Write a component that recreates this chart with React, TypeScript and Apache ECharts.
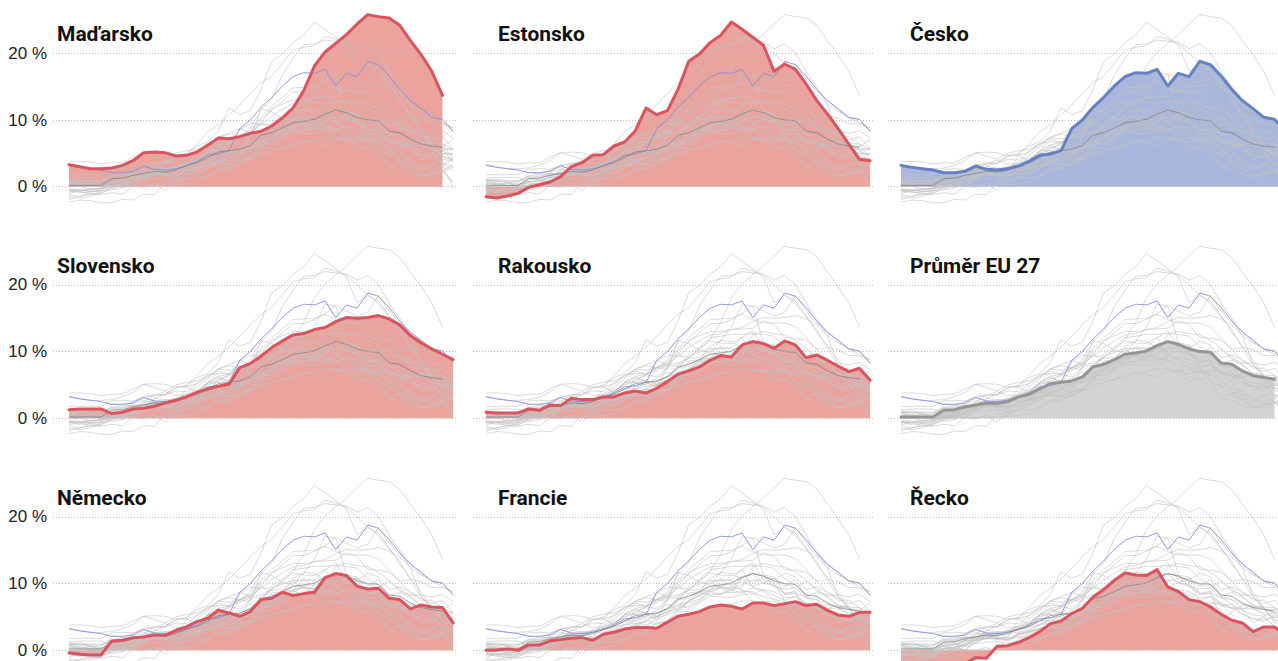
import { useEffect, useRef } from 'react';
import * as echarts from 'echarts';

// Monthly HICP inflation, Sep 2020 – Sep 2023 (index 0 = 2020-09)
const MONTHS = ['2020-09','2020-10','2020-11','2020-12','2021-01','2021-02','2021-03','2021-04','2021-05','2021-06','2021-07','2021-08','2021-09','2021-10','2021-11','2021-12','2022-01','2022-02','2022-03','2022-04','2022-05','2022-06','2022-07','2022-08','2022-09','2022-10','2022-11','2022-12','2023-01','2023-02','2023-03','2023-04','2023-05','2023-06','2023-07','2023-08','2023-09'];

const Y_TICKS = [0, 10, 20];

const HU = [3.3,3.0,2.7,2.7,2.8,3.2,3.9,5.1,5.2,5.1,4.6,4.7,5.2,6.2,7.3,7.2,7.5,8.0,8.3,9.1,10.3,11.8,14.4,18.1,20.2,21.5,22.8,24.4,25.8,25.5,25.3,24.2,21.9,19.8,17.3,13.7];
const EE = [-1.5,-1.7,-1.4,-1.0,-0.1,0.3,0.7,1.5,3.0,3.6,4.7,4.8,6.1,6.7,8.4,11.8,10.8,11.4,14.6,18.8,19.9,21.6,22.7,24.7,23.6,22.4,21.2,17.3,18.4,17.6,15.4,12.9,10.9,8.7,6.4,4.1,3.9];
const CZ = [3.2,2.9,2.7,2.5,2.1,2.1,2.3,3.1,2.6,2.5,2.7,3.1,3.8,4.7,4.9,5.4,8.7,10.0,11.9,13.4,15.1,16.5,17.1,17.0,17.6,15.1,17.0,16.5,18.8,18.3,16.6,14.6,12.9,11.7,10.4,10.1,8.3];
const SK = [1.3,1.4,1.4,1.4,0.7,0.9,1.4,1.5,1.8,2.3,2.7,3.2,3.9,4.4,4.8,5.1,7.6,8.2,9.3,10.6,11.6,12.5,12.7,13.3,13.6,14.5,15.1,15.0,15.1,15.4,14.9,14.0,12.4,11.3,10.4,9.6,8.8];
const AT = [0.9,0.8,0.8,0.8,1.4,1.2,2.0,1.9,3.0,2.8,2.8,3.2,3.2,3.8,4.1,3.8,4.5,5.5,6.6,7.1,7.7,8.7,9.4,9.2,11.0,11.5,11.2,10.5,11.6,11.0,9.1,9.5,8.7,7.8,7.0,7.5,5.7];
const EU = [0.2,0.2,0.2,0.2,1.2,1.3,1.7,2.0,2.3,2.2,2.5,3.2,3.6,4.4,5.2,5.4,5.6,6.2,7.7,8.1,8.8,9.6,9.8,10.1,10.9,11.5,11.1,10.4,10.0,9.9,8.3,8.1,7.1,6.4,6.1,5.9];
const DE = [-0.4,-0.6,-0.7,-0.7,1.4,1.5,1.9,2.0,2.3,2.2,3.0,3.5,4.3,4.8,6.0,5.6,5.1,5.8,7.6,7.8,8.7,8.2,8.5,8.7,10.9,11.5,11.2,9.6,9.2,9.3,7.8,7.6,6.2,6.8,6.5,6.4,4.1];
const FR = [0.0,0.0,0.2,0.0,0.8,0.8,1.4,1.6,1.8,1.9,1.5,2.4,2.7,3.2,3.4,3.4,3.3,4.2,5.1,5.4,5.8,6.5,6.8,6.6,6.2,7.1,7.1,6.7,7.0,7.3,6.7,6.9,6.0,5.3,5.1,5.7,5.7];
const GR = [-2.3,-2.0,-2.1,-2.4,-2.4,-1.9,-2.0,-1.1,-1.2,0.6,0.7,1.2,1.9,2.8,4.0,4.4,5.5,6.3,8.0,9.1,10.5,11.6,11.3,11.2,12.1,9.5,8.8,7.6,7.3,6.5,5.4,4.5,4.1,2.8,3.5,3.5,2.4];
const LT = [1.1,0.9,0.8,0.0,0.2,0.5,1.6,2.4,3.5,3.5,4.5,5.0,6.4,8.2,9.3,10.7,12.3,14.0,15.6,16.6,18.5,20.5,20.9,21.1,22.5,22.1,21.4,20.0,18.5,17.2,15.2,13.3,10.5,8.0,6.2,4.6,4.1];
const LV = [-0.4,-0.4,-0.7,-0.5,-0.5,-0.2,0.6,1.9,2.6,2.7,2.7,3.7,4.7,6.0,7.4,7.9,7.5,8.8,11.5,13.1,16.8,19.2,21.3,21.4,22.0,21.8,21.7,20.7,21.4,20.1,17.2,15.0,12.3,8.1,6.3,5.6,3.7];
const NL = [1.0,1.1,0.9,0.9,1.6,1.9,1.9,1.7,2.0,1.7,1.4,2.7,3.0,3.7,5.9,6.4,7.6,7.3,11.7,11.2,10.2,9.9,11.6,13.7,17.1,16.8,11.3,11.0,8.4,8.9,4.5,5.8,6.8,6.4,5.3,3.4,-0.3];
const PL = [3.8,3.8,3.7,3.4,3.6,3.6,4.4,5.1,4.6,4.1,5.0,5.4,5.6,6.4,7.4,8.0,8.7,8.1,10.2,11.4,12.8,14.2,14.2,14.8,15.7,16.9,16.1,15.3,15.9,18.4,16.1,14.3,13.0,11.5,10.3,10.1,8.2];
const BG = [0.9,0.9,0.6,0.0,-0.3,0.1,0.8,2.0,1.8,2.4,3.0,2.5,4.0,5.2,6.3,6.6,7.7,8.4,10.5,12.1,13.4,14.8,14.9,15.0,15.6,14.8,14.3,14.3,14.3,13.7,12.1,10.3,8.7,7.5,7.5,6.4,5.6];
const RO = [1.8,1.8,1.8,1.8,2.6,2.7,2.6,3.1,3.6,3.5,4.1,4.0,5.2,6.5,6.7,6.7,7.2,7.9,9.6,11.7,12.4,13.0,13.0,13.3,13.4,13.5,14.6,14.1,12.1,12.0,11.7,10.4,10.6,10.3,9.4,9.4,8.8];
const BE = [0.9,0.3,0.6,0.4,0.6,0.3,1.6,2.0,2.1,2.7,1.8,4.7,3.9,5.4,7.1,6.6,8.5,9.5,9.3,9.3,9.9,10.5,10.4,10.5,12.1,13.1,10.5,10.2,7.4,5.4,4.9,3.3,2.7,1.6,1.7,2.4,0.7];
const HR = [0.0,0.1,-0.4,-0.2,0.2,0.9,1.4,2.4,2.5,2.1,2.8,3.1,3.5,3.9,4.5,5.2,5.5,6.3,7.3,9.6,10.7,12.1,12.3,12.6,12.6,12.7,13.0,12.7,12.5,11.7,10.5,8.9,8.3,8.3,8.0,8.4,7.3];
const SI = [-0.5,-0.7,-1.1,-1.2,-0.9,-1.1,0.1,1.6,2.2,1.9,1.8,2.1,2.7,3.2,4.9,5.1,6.0,7.0,6.0,7.4,8.7,10.8,11.7,11.5,10.6,10.3,10.8,10.8,9.9,9.4,10.4,9.2,8.1,6.6,6.2,6.0,7.1];
const ES = [-0.6,-0.9,-0.8,-0.6,0.4,-0.1,1.2,2.0,2.4,2.5,2.9,3.3,4.0,5.4,5.5,6.6,6.2,7.6,9.8,8.3,8.5,10.0,10.7,10.5,9.0,7.3,6.7,5.5,5.9,6.0,3.1,3.8,2.9,1.6,2.1,2.4,3.3];
const IT = [-1.0,-0.6,-0.3,-0.3,0.7,1.0,0.6,1.0,1.2,1.3,1.0,2.5,2.9,3.2,3.9,4.2,5.1,6.2,6.8,6.3,7.3,8.5,8.4,9.1,9.4,12.6,12.6,12.3,10.7,9.8,8.1,8.7,8.0,6.7,6.3,5.5,5.6];
const IE = [-1.2,-1.5,-1.0,-1.0,-0.1,0.3,0.1,1.1,1.9,1.6,2.2,3.0,3.8,5.1,5.4,5.7,5.0,5.7,6.9,7.3,8.3,9.6,9.6,9.0,8.6,9.4,9.0,8.2,7.5,8.1,7.0,6.3,5.4,4.8,4.6,4.9,5.0];
const PT = [-0.7,-0.6,-0.5,-0.3,0.2,0.3,0.1,-0.1,0.5,-0.6,1.0,1.3,1.3,1.8,2.6,2.8,3.4,4.4,5.5,7.4,8.1,9.0,9.4,9.3,9.8,10.6,10.2,9.8,8.6,8.6,8.0,6.9,5.4,4.7,4.3,5.3,4.8];
const CY = [-1.9,-1.4,-1.1,-0.8,0.2,0.5,0.9,1.2,2.4,2.2,2.7,3.1,3.6,4.4,4.4,4.8,5.0,5.8,6.2,8.6,8.8,9.0,10.6,9.6,9.0,8.6,8.1,7.6,6.8,6.7,6.1,3.9,3.6,2.8,2.4,3.1,4.3];
const MT = [0.7,0.6,0.2,0.2,0.2,0.1,0.1,0.1,0.2,0.2,0.3,0.4,0.7,1.6,2.4,2.6,4.1,4.2,4.5,5.4,5.8,6.1,6.8,7.0,7.4,7.4,7.2,7.3,6.8,7.0,7.1,6.4,6.3,6.2,5.6,5.0,4.8];
const LU = [-0.6,-0.6,-0.3,-0.3,2.2,1.9,2.5,3.3,3.3,4.0,3.4,3.5,4.0,5.3,6.3,5.4,4.6,7.8,7.9,9.0,9.1,10.3,9.3,8.6,8.8,8.8,7.3,6.2,5.8,4.8,2.9,2.7,2.0,1.5,2.0,2.2,3.0];
const DK = [0.5,0.5,0.2,0.3,0.6,0.3,1.0,1.4,1.7,1.8,0.3,1.7,2.4,3.2,3.8,3.4,4.9,5.3,6.0,7.4,8.2,9.1,9.6,10.0,11.1,11.4,10.1,9.6,8.4,8.5,6.9,5.4,3.1,2.5,3.4,2.5,0.6];
const FI = [0.5,0.3,0.1,0.2,1.0,1.1,1.8,2.1,2.3,1.9,1.8,1.9,2.1,2.8,3.5,3.2,4.1,4.4,5.8,5.8,7.1,8.1,8.0,7.9,8.4,8.4,9.1,8.8,7.9,8.0,6.7,6.3,6.1,4.1,5.0,3.6,3.0];
const SE = [0.3,0.3,0.5,0.6,1.6,1.6,2.1,2.7,2.2,1.8,1.6,2.4,2.8,3.3,3.6,4.5,3.9,4.4,6.3,6.6,7.5,8.9,8.3,9.8,10.3,9.6,10.1,10.8,9.6,10.6,8.1,7.6,6.9,6.4,6.4,4.5,4.0];

const COUNTRIES: Record<string, number[]> = { HU, EE, CZ, SK, AT, DE, FR, GR, LT, LV, NL, PL, BG, RO, BE, HR, SI, ES, IT, IE, PT, CY, MT, LU, DK, FI, SE };
const SERIES_BY_KEY: Record<string, number[]> = { ...COUNTRIES, EU };

const PANELS = [
  { title: 'Maďarsko', key: 'HU', theme: 'red' },
  { title: 'Estonsko', key: 'EE', theme: 'red' },
  { title: 'Česko', key: 'CZ', theme: 'blue' },
  { title: 'Slovensko', key: 'SK', theme: 'red' },
  { title: 'Rakousko', key: 'AT', theme: 'red' },
  { title: 'Průměr EU 27', key: 'EU', theme: 'grey' },
  { title: 'Německo', key: 'DE', theme: 'red' },
  { title: 'Francie', key: 'FR', theme: 'red' },
  { title: 'Řecko', key: 'GR', theme: 'red' },
];

const THEMES: Record<string, { line: string; fill: string }> = {
  red: { line: '#d9545f', fill: '#eba39e' },
  blue: { line: '#6481c2', fill: '#aab7dd' },
  grey: { line: '#959595', fill: '#d3d3d3' },
};

// layout (pixels)
const COL_DATA_X = [69, 486, 901];
const COL_PAD_L = [16, 13, 13];
const TITLE_X = [57, 498, 910];
const STEP = 10.67;
const PAD_R = 3.5;
const ROW_ZERO_Y = [186.7, 418.3, 650.3];
const PX_PER_UNIT = 6.67;
const Y_MIN = -3;
const Y_MAX = 27;
const FONT = "'Liberation Sans', Arial, Helvetica, sans-serif";
const TITLE_FONT = "Roboto, 'Liberation Sans', Arial, sans-serif";

const toXY = (arr: number[]) => arr.map((v, i) => [i, v]);

function buildOption() {
  const grid: any[] = [];
  const xAxis: any[] = [];
  const yAxis: any[] = [];
  const series: any[] = [];
  const graphic: any[] = [];
  const last = MONTHS.length - 1;

  PANELS.forEach((p, k) => {
    const r = Math.floor(k / 3);
    const c = k % 3;
    const th = THEMES[p.theme];
    grid.push({
      left: COL_DATA_X[c] - COL_PAD_L[c],
      top: ROW_ZERO_Y[r] - Y_MAX * PX_PER_UNIT,
      width: COL_PAD_L[c] + last * STEP + PAD_R,
      height: (Y_MAX - Y_MIN) * PX_PER_UNIT,
      containLabel: false,
    });
    xAxis.push({
      type: 'value', gridIndex: k,
      min: -COL_PAD_L[c] / STEP, max: last + PAD_R / STEP,
      show: false,
    });
    yAxis.push({
      type: 'value', gridIndex: k, min: Y_MIN, max: Y_MAX,
      axisLine: { show: false }, axisTick: { show: false }, splitLine: { show: false },
      axisLabel: c === 0
        ? { show: true, customValues: Y_TICKS, formatter: (v: number) => `${v} %`, fontSize: 17, color: '#222', margin: 6, fontFamily: FONT }
        : { show: false },
    });
    const hl = SERIES_BY_KEY[p.key];
    const base = { type: 'line', xAxisIndex: k, yAxisIndex: k, symbol: 'none', silent: true, emphasis: { disabled: true } };
    // gridlines
    series.push({
      ...base, data: toXY(hl), z: 1, lineStyle: { opacity: 0, width: 0 },
      markLine: {
        silent: true, symbol: 'none', label: { show: false },
        lineStyle: { type: [1, 2], color: '#bdbdbd', width: 1 },
        data: Y_TICKS.map((v) => ({ yAxis: v })),
      },
    });
    // highlighted area
    series.push({ ...base, data: toXY(hl), z: 2, lineStyle: { width: 0, opacity: 0 }, areaStyle: { color: th.fill, opacity: 1 } });
    // background countries
    Object.keys(COUNTRIES).forEach((key) => {
      if (key === 'CZ' || key === p.key) return;
      series.push({ ...base, data: toXY(COUNTRIES[key]), z: 3, lineStyle: { color: '#c4c4c4', width: 1, opacity: 0.62 } });
    });
    if (p.key !== 'CZ') {
      series.push({ ...base, data: toXY(CZ), z: 4, lineStyle: { color: '#8590da', width: 1, opacity: 0.9 } });
    }
    if (p.key !== 'EU') {
      series.push({ ...base, data: toXY(EU), z: 4, lineStyle: { color: '#7a7a7a', width: 1, opacity: 0.7 } });
    }
    series.push({ ...base, data: toXY(hl), z: 5, lineStyle: { color: th.line, width: 3, cap: 'round', join: 'round' } });

    graphic.push({
      type: 'text', x: TITLE_X[c], y: ROW_ZERO_Y[r] - 152.5,
      style: { text: p.title, font: `bold 21px ${TITLE_FONT}`, fill: '#111', verticalAlign: 'middle', align: 'left' },
      silent: true,
    });
  });

  return { animation: false, backgroundColor: '#fff', grid, xAxis, yAxis, series, graphic };
}

export default function App() {
  const ref = useRef<HTMLDivElement>(null);
  useEffect(() => {
    if (!ref.current) return;
    const chart = echarts.init(ref.current, undefined, { renderer: 'svg' });
    chart.setOption(buildOption() as any);
    return () => chart.dispose();
  }, []);
  return <div ref={ref} style={{ position: 'fixed', left: 0, top: 0, width: 1300, height: 700, background: '#fff' }} />;
}
